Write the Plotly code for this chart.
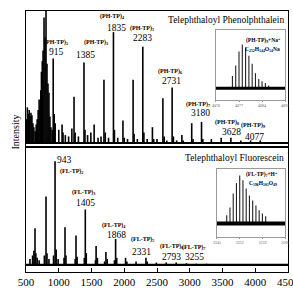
import plotly.graph_objects as go

# ---------------- data ----------------
# Top panel: Telephthaloyl Phenolphthalein (m/z, relative intensity)
ph_mz = [510, 520, 535, 548, 560, 575, 590, 605, 620, 640, 655, 670, 685, 700, 715, 725, 735, 748,
         760, 775, 790, 805, 820, 835, 850, 865, 880, 900, 915, 930, 945,
         1000, 1050, 1065, 1100, 1150, 1200, 1233, 1250, 1300, 1385, 1400, 1440, 1490, 1540, 1600,
         1645, 1690, 1710, 1760, 1835, 1850, 1900, 1980, 2000, 2050, 2135, 2150, 2200, 2283, 2300,
         2350, 2430, 2450, 2500, 2590, 2610, 2650, 2731, 2750, 2800, 2880, 2900, 3030, 3050, 3180,
         3200, 3330, 3480, 3628, 3780, 3930, 4077]
ph_int = [18, 27, 22, 25, 20, 23, 21, 15, 12, 9, 14, 18, 25, 33, 28, 40, 54, 62,
          70, 95, 80, 115, 60, 45, 38, 20, 12, 10, 64, 22, 15,
          10, 14, 8, 6, 5, 11, 35, 8, 5, 61, 10, 6, 8, 14, 4,
          5, 48, 8, 4, 84, 10, 4, 17, 4, 3, 48, 7, 3, 73, 8,
          3, 12, 3, 3, 34, 5, 2, 42, 5, 2, 6, 2, 15, 3, 16,
          3, 3, 4, 4, 2, 2, 2]

# Bottom panel: Telephthaloyl Fluorescein
fl_mz = [560, 600, 620, 637, 650, 670, 700, 780, 805, 820, 850, 920, 943, 960, 990, 1080, 1095,
         1110, 1250, 1263, 1280, 1390, 1405, 1420, 1560, 1570, 1590, 1700, 1720, 1740, 1850, 1868,
         1885, 2020, 2040, 2180, 2331, 2350, 2490, 2640, 2793, 2950, 3100, 3255]
fl_int = [5, 8, 12, 31, 10, 6, 4, 8, 58, 10, 5, 8, 88, 13, 5, 6, 32,
          8, 5, 25, 7, 6, 47, 10, 4, 16, 6, 3, 11, 5, 4, 22,
          6, 6, 3, 3, 6, 3, 2, 2, 2, 1.5, 1, 1]

# Insets: isotope distributions
ph_iso_mz = [4075, 4076, 4077, 4078, 4079, 4080, 4081, 4082, 4083, 4084, 4085, 4086]
ph_iso_int = [0.21, 0.39, 0.63, 0.75, 0.70, 0.56, 0.42, 0.26, 0.16, 0.12, 0.09, 0.05]
fl_iso_mz = [3248, 3249, 3250, 3251, 3252, 3253, 3254, 3255, 3256, 3257, 3258, 3259, 3260]
fl_iso_int = [0.15, 0.29, 0.55, 0.74, 0.88, 0.79, 0.64, 0.51, 0.42, 0.33, 0.24, 0.18, 0.13]

x_ticks = [500, 1000, 1500, 2000, 2500, 3000, 3500, 4000, 4500]
ph_iso_ticks = [4070, 4077, 4084, 4091]
fl_iso_ticks = [3245, 3252, 3259, 3266]

# ---------------- helpers ----------------
def sticks(xs, ys):
    X, Y = [], []
    for a, b in zip(xs, ys):
        X += [a, a, None]
        Y += [0, b, None]
    return X, Y

SERIF = "Liberation Serif, Times New Roman, serif"
fig = go.Figure()

px, py = sticks(ph_mz, ph_int)
fig.add_trace(go.Scatter(x=px, y=py, mode="lines", line=dict(color="black", width=1.6),
                         xaxis="x2", yaxis="y2", hoverinfo="skip"))
fig.add_trace(go.Scatter(x=[500, 4500], y=[0, 0], mode="lines", line=dict(color="black", width=2),
                         xaxis="x2", yaxis="y2", hoverinfo="skip"))
fx, fy = sticks(fl_mz, fl_int)
fig.add_trace(go.Scatter(x=fx, y=fy, mode="lines", line=dict(color="black", width=1.6),
                         xaxis="x", yaxis="y", hoverinfo="skip"))
fig.add_trace(go.Scatter(x=[500, 4500], y=[0, 0], mode="lines", line=dict(color="black", width=2.2),
                         xaxis="x", yaxis="y", hoverinfo="skip"))

ix, iy = sticks(ph_iso_mz, ph_iso_int)
fig.add_trace(go.Scatter(x=ix, y=iy, mode="lines", line=dict(color="#222", width=1.1),
                         xaxis="x3", yaxis="y3", hoverinfo="skip"))
fig.add_trace(go.Scatter(x=[4070, 4091], y=[0, 0], mode="lines", line=dict(color="black", width=3),
                         xaxis="x3", yaxis="y3", hoverinfo="skip"))
jx, jy = sticks(fl_iso_mz, fl_iso_int)
fig.add_trace(go.Scatter(x=jx, y=jy, mode="lines", line=dict(color="#222", width=1.1),
                         xaxis="x4", yaxis="y4", hoverinfo="skip"))
fig.add_trace(go.Scatter(x=[3245, 3266], y=[0, 0], mode="lines", line=dict(color="black", width=4),
                         xaxis="x4", yaxis="y4", hoverinfo="skip"))

frame = dict(showline=True, mirror=True, linecolor="black", linewidth=1, showgrid=False, zeroline=False,
             automargin=False)
inset_frame = dict(showline=True, mirror=True, linecolor="#999", linewidth=1, showgrid=False, zeroline=False,
                   automargin=False)

fig.update_layout(
    width=293, height=292, showlegend=False,
    margin=dict(l=26, r=5, t=11, b=20, autoexpand=False),
    paper_bgcolor="white", plot_bgcolor="white",
    font=dict(family=SERIF, color="black"),
    xaxis=dict(domain=[0, 1], range=[499.5, 4500.5], anchor="y", tickvals=x_ticks,
               ticks="inside", ticklen=4, tickcolor="black", ticklabeloverflow="allow",
               tickfont=dict(size=11, family=SERIF), **frame),
    yaxis=dict(domain=[0, 0.479], range=[-6, 100], anchor="x", showticklabels=False, ticks="", **frame),
    xaxis2=dict(domain=[0, 1], range=[499.5, 4500.5], anchor="y2", showticklabels=False, ticks="", **frame),
    yaxis2=dict(domain=[0.479, 1], range=[-3, 100], anchor="x2", showticklabels=False, ticks="", **frame),
    xaxis3=dict(domain=[0.725, 0.989], range=[4070, 4091], anchor="y3", tickvals=ph_iso_ticks,
                ticks="outside", ticklen=1, tickcolor="#999", tickfont=dict(size=4, color="#666"), **inset_frame),
    yaxis3=dict(domain=[0.659, 0.927], range=[-0.2, 1.0], anchor="x3", showticklabels=False, ticks="", **inset_frame),
    xaxis4=dict(domain=[0.729, 0.989], range=[3245, 3266], anchor="y4", tickvals=fl_iso_ticks,
                ticks="outside", ticklen=1, tickcolor="#999", tickfont=dict(size=4, color="#666"), **inset_frame),
    yaxis4=dict(domain=[0.134, 0.395], range=[-0.25, 1.0], anchor="x4", showticklabels=False, ticks="", **inset_frame),
)

ann = []
def add(text, x, y, xref, yref, size, bold=False, **kw):
    t = f"<b>{text}</b>" if bold else text
    ann.append(dict(text=t, x=x, y=y, xref=xref, yref=yref, showarrow=False,
                    font=dict(size=size, family=SERIF, color="black"), **kw))

# top panel labels
ph_labels = [("(PH-TP)<sub>2</sub>", 958, 75.8, "915", 958, 69),
             ("(PH-TP)<sub>3</sub>", 1569, 75.8, "1385", 1401, 66.7),
             ("(PH-TP)<sub>4</sub>", 1813, 96.2, "1835", 1874, 87.1),
             ("(PH-TP)<sub>5</sub>", 2271, 86.4, "2283", 2286, 79.5),
             ("(PH-TP)<sub>6</sub>", 2698, 54.5, "2731", 2714, 47),
             ("(PH-TP)<sub>7</sub>", 3126, 29.5, "3180", 3157, 22.7),
             ("(PH-TP)<sub>8</sub>", 3570, 15.2, "3628", 3630, 8.3),
             ("(PH-TP)<sub>9</sub>", 3965, 13.6, "4077", 3996, 4.5)]
for lab, lx, ly, num, nx, ny in ph_labels:
    add(lab, lx, ly, "x2", "y2", 6, bold=True)
    add(num, nx, ny, "x2", "y2", 9.5)

fl_labels = [("(FL-TP)<sub>2</sub>", 1187, 78.8, "943", 1080, 89),
             ("(FL-TP)<sub>3</sub>", 1370, 61, "1405", 1401, 52.5),
             ("(FL-TP)<sub>4</sub>", 1843, 33.8, "1868", 1874, 25.4),
             ("(FL-TP)<sub>5</sub>", 2286, 21.2, "2331", 2256, 11),
             ("(FL-TP)<sub>6</sub>", 2714, 16, "2793", 2715, 6.7),
             ("(FL-TP)<sub>7</sub>", 3060, 15.2, "3255", 3065, 6.7)]
for lab, lx, ly, num, nx, ny in fl_labels:
    add(lab, lx, ly, "x", "y", 6, bold=True)
    add(num, nx, ny, "x", "y", 9.5)

add("Telephthaloyl Phenolphthalein", 0.992, 0.966, "paper", "paper", 9.5, xanchor="right", yanchor="middle")
add("Telephthaloyl Fluorescein", 0.992, 0.437, "paper", "paper", 9.5, xanchor="right", yanchor="middle")
add("Intensity", -0.069, 0.536, "paper", "paper", 10, textangle=-90)
add("(PH-TP)<sub>9</sub>+Na<sup>+</sup>", 0.977, 0.908, "paper", "paper", 5.5, bold=True, xanchor="right")
add("C<sub>252</sub>H<sub>144</sub>O<sub>54</sub>Na", 0.977, 0.875, "paper", "paper", 5.5, bold=True, xanchor="right")
add("(FL-TP)<sub>7</sub>+H<sup>+</sup>", 0.966, 0.372, "paper", "paper", 5.5, bold=True, xanchor="right")
add("C<sub>196</sub>H<sub>101</sub>O<sub>49</sub>", 0.966, 0.340, "paper", "paper", 5.5, bold=True, xanchor="right")

fig.update_layout(annotations=ann)
fig.write_html("out.html", config={"displayModeBar": False},
               post_script="document.body.style.margin='0';document.body.style.overflow='hidden';")
